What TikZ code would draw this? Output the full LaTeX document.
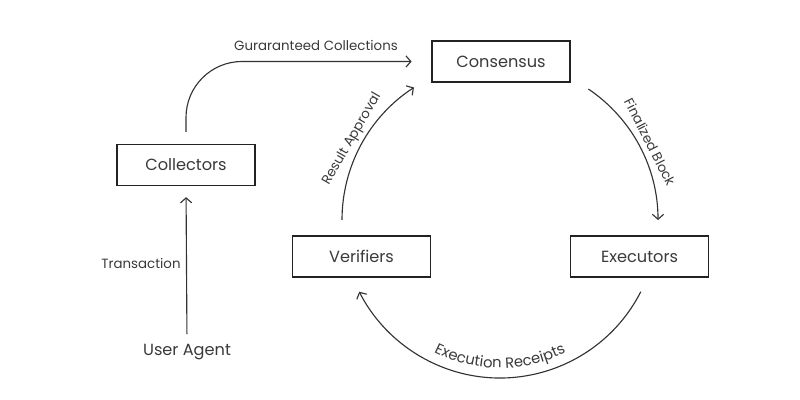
\documentclass[tikz,border=0pt]{standalone}
\usepackage{fontspec}
\setmainfont{Poppins}
\usetikzlibrary{arrows.meta,decorations.text,calc}
\definecolor{txt}{HTML}{3A3A3A}
\definecolor{ln}{HTML}{333333}
\definecolor{bx}{HTML}{222222}
\tikzset{
  box/.style={draw=bx, line width=1pt, minimum width=3.45cm, minimum height=1.025cm, inner sep=0pt, text=txt, font=\fontsize{11.5}{13}\selectfont},
  lbl/.style={text=txt, font=\fontsize{9.5}{11}\selectfont, inner sep=0pt},
  arr/.style={draw=ln, line width=0.8pt, -{Straight Barb[length=3.5pt,width=8pt]}},
  arclabel/.style={decorate, decoration={text along path, text align=center, raise=#1}},
}
\begin{document}
\begin{tikzpicture}[x=0.025cm,y=0.025cm]
\useasboundingbox[fill=white] (0,0) rectangle (800,400);
\node[box] (consensus) at (501,338.5) {Consensus};
\node[box] (collectors) at (186,235) {Collectors};
\node[box] (verifiers) at (361.5,143.5) {Verifiers};
\node[box] (executors) at (639.5,143.5) {Executors};
\node[text=txt, font=\fontsize{11.5}{13}\selectfont, inner sep=0pt] (ua) at (187,48) {User Agent};

\draw[arr, shorten <=7pt, shorten >=7.8pt] (ua.north) -- (collectors.south);
\node[lbl] (tx) at (141,137) {Transaction};

\draw[arr, rounded corners=1.4cm, shorten <=8.5pt, shorten >=14pt] (collectors.north) |- (consensus.west);
\node[lbl] (gc) at (316,355) {Guraranteed Collections};

\coordinate (C) at (500,180);
\def\R{158}
\coordinate (fbS) at ($(C)+(56:\R)$);
\coordinate (raS) at ($(C)+(180:\R)$);
\coordinate (erS) at ($(C)+(-27:\R)$);
\coordinate (erL) at ($(C)+(-155:148)$);

\draw[arr] (fbS) arc[start angle=56, end angle=0, radius=\R];
\node[lbl, rotate=-63] (fb) at (650,258) {Finalized Block};

\draw[arr] (raS) arc[start angle=180, end angle=123, radius=\R];
\node[lbl, rotate=60] (ra) at (352,261) {Result Approval};

\draw[arr] (erS) arc[start angle=-27, end angle=-153, radius=\R];
\path[arclabel=0pt, decoration={text={|\color{txt}\fontsize{10.5}{12}\selectfont|Execution Receipts}}] (erL) arc[start angle=-155, end angle=-25, radius=148];
\end{tikzpicture}
\end{document}
